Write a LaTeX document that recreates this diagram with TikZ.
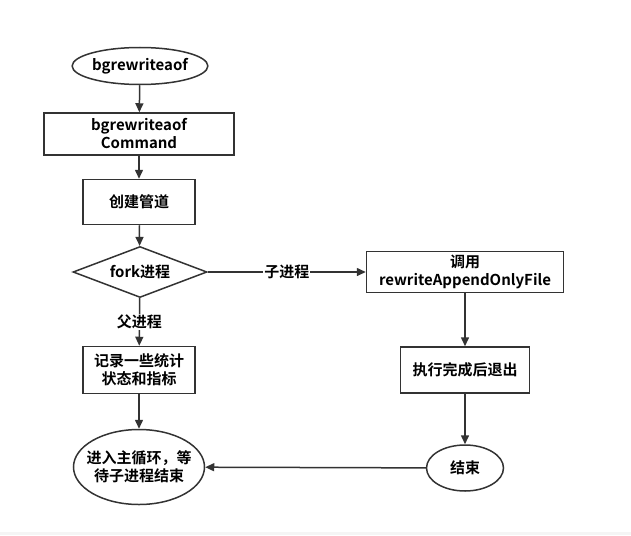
\documentclass[tikz,border=0pt]{standalone}
\usepackage{fontspec}
\setmainfont{Noto Sans CJK SC}[BoldFont={Noto Sans CJK SC Bold}]
\usetikzlibrary{arrows.meta,shapes.geometric}
\definecolor{lineGray}{HTML}{333333}
\tikzset{
	flowbox/.style={draw=lineGray, line width=1.5pt, rectangle, align=center,
		inner sep=0pt, font=\fontsize{15}{18}\selectfont\bfseries},
	flowoval/.style={draw=lineGray, line width=1.5pt, ellipse, align=center,
		inner sep=0pt, font=\fontsize{15}{18}\selectfont\bfseries},
	flowchoice/.style={draw=lineGray, line width=1.5pt, diamond, align=center,
		inner sep=0pt, font=\fontsize{15}{18}\selectfont\bfseries},
	flowarrow/.style={draw=lineGray, line width=1.5pt, -{Triangle[length=9pt, width=8pt]}},
	flowlabel/.style={fill=white, inner sep=1pt, font=\fontsize{15}{18}\selectfont\bfseries}
}
\begin{document}
\begin{tikzpicture}[x=1pt, y=-1pt]
	\useasboundingbox (0,0) rectangle (631,535);
	\fill[black!4] (0,532) rectangle (631,535);
	% left column
	\node[flowoval, minimum width=126pt, minimum height=37pt] (start) at (140,66) {bgrewriteaof};
	\node[flowbox, minimum width=190pt, minimum height=42pt] (cmd) at (139,134) {bgrewriteaof\\Command};
	\node[flowbox, minimum width=112pt, minimum height=45pt] (pipe) at (139,202) {创建管道};
	\node[flowchoice, minimum width=134pt, minimum height=51pt, aspect=2.6] (fork) at (140,272) {fork进程};
	\node[flowbox, minimum width=112pt, minimum height=47pt] (stat) at (139,370) {记录一些统计\\状态和指标};
	\node[flowoval, minimum width=131pt, minimum height=75pt, inner xsep=-10pt] (wait) at (139,467) {进入主循环，等\\待子进程结束};
	% right column
	\node[flowbox, minimum width=197pt, minimum height=41pt] (rewrite) at (465,272) {调用\\rewriteAppendOnlyFile};
	\node[flowbox, minimum width=129pt, minimum height=46pt] (exitjob) at (465,370) {执行完成后退出};
	\node[flowoval, minimum width=77pt, minimum height=46pt] (done) at (465,468) {结束};
	% connectors
	\draw[flowarrow] (start) -- (cmd);
	\draw[flowarrow] (cmd) -- (pipe);
	\draw[flowarrow] (pipe) -- (fork);
	\draw[flowarrow] (fork) -- node[flowlabel] {父进程} (stat);
	\draw[flowarrow] (stat) -- (wait);
	\draw[flowarrow] (fork) -- node[flowlabel] {子进程} (rewrite);
	\draw[flowarrow] (rewrite) -- (exitjob);
	\draw[flowarrow] (exitjob) -- (done);
	\draw[flowarrow] (done) -- (wait);
\end{tikzpicture}
\end{document}
